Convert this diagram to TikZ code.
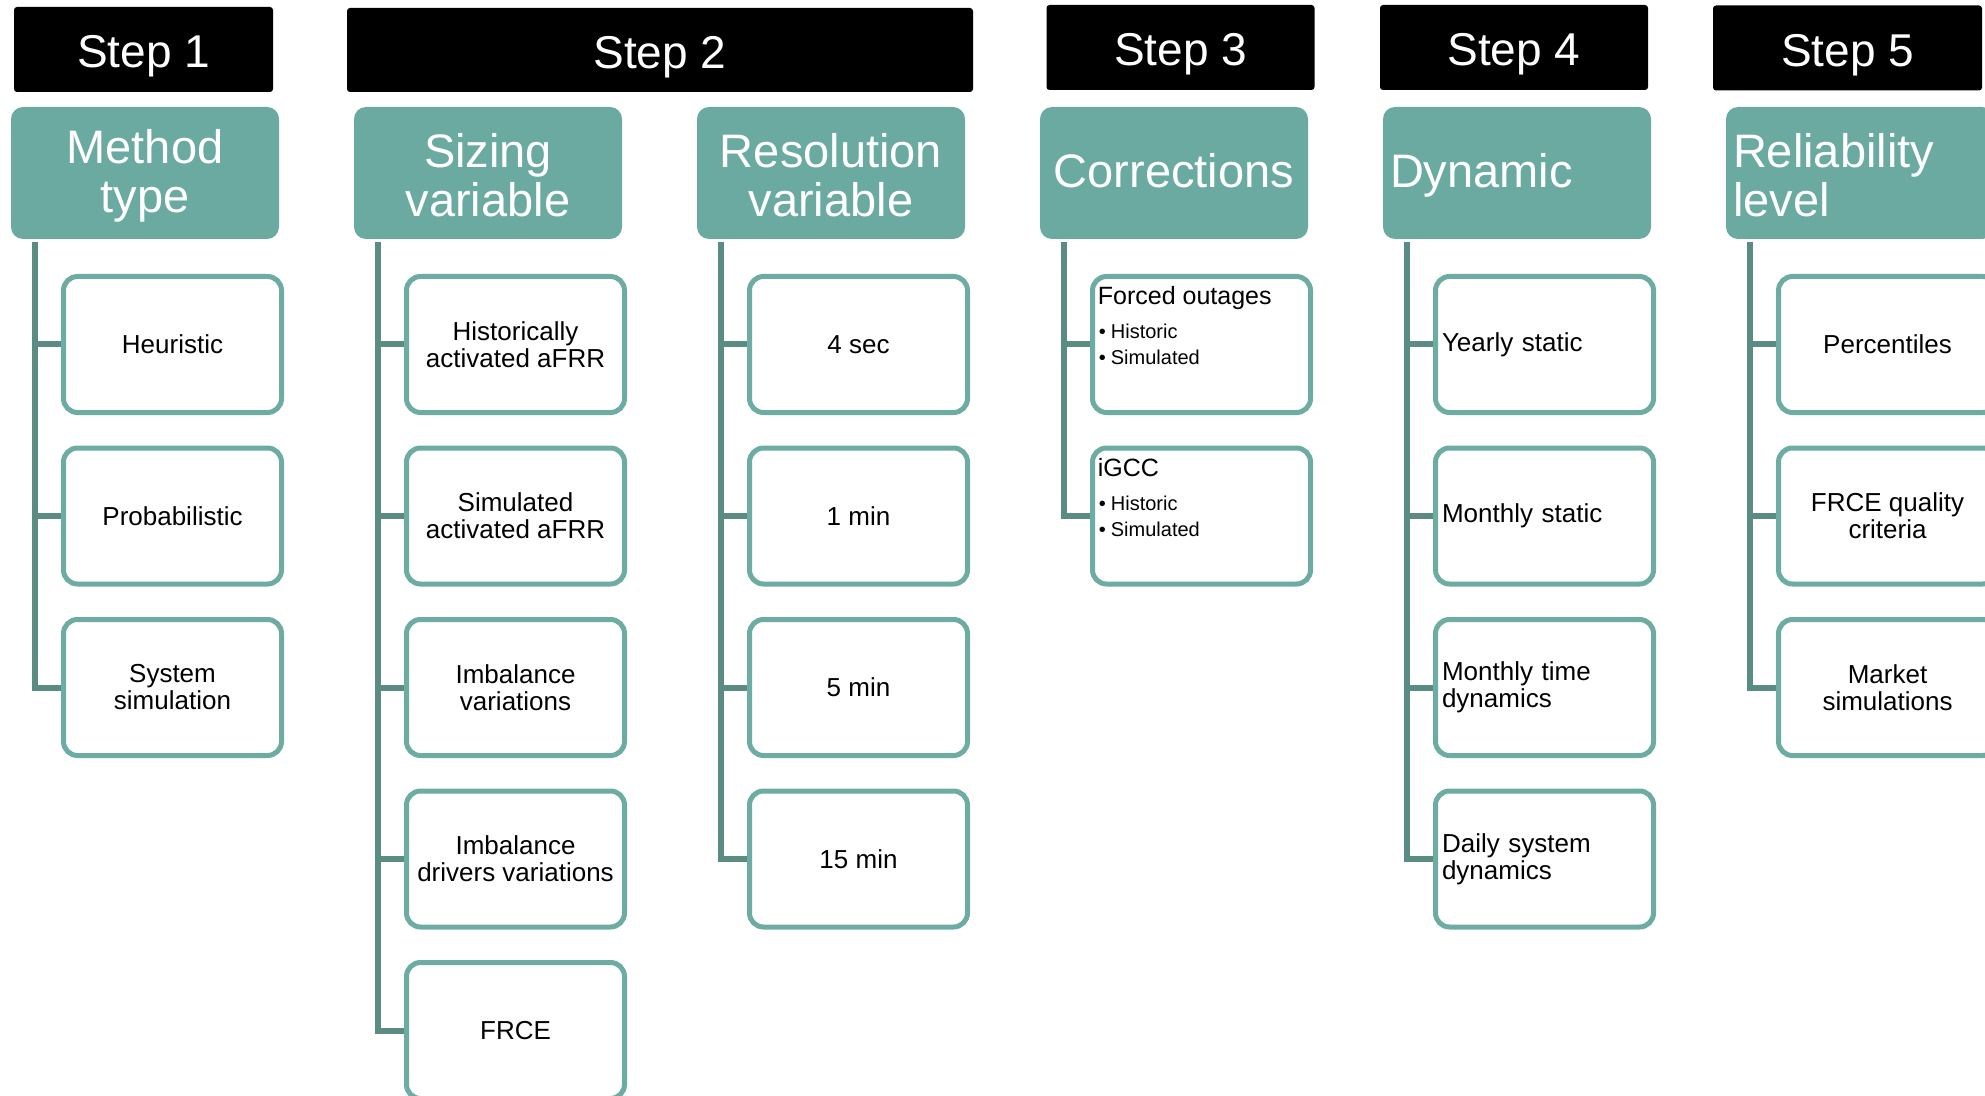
\documentclass[tikz,border=0pt]{standalone}
\usepackage{fontspec}
\setmainfont{Liberation Sans}
\usetikzlibrary{backgrounds}
\definecolor{hdrfill}{RGB}{106,170,160}
\definecolor{boxline}{RGB}{108,172,162}
\definecolor{connline}{RGB}{90,140,131}
\newcommand{\hstrut}{\rule{0pt}{19.5pt}}
\begin{document}
\begin{tikzpicture}[x=0.5pt,y=-0.5pt,
 stepbar/.style={fill=black, text=white, rounded corners=1.5pt, minimum height=42.5pt, inner sep=0pt, text height=18.5pt, text depth=0pt, font=\fontsize{23}{24}\selectfont},
 hdr/.style={fill=hdrfill, text=white, rounded corners=6pt, minimum width=134pt, minimum height=66pt, inner sep=0pt, align=center, font=\fontsize{23.5}{24.5}\selectfont},
 hdrone/.style={hdr, text height=17pt, text depth=2pt},
 hdrleft/.style={hdr, text width=127pt, align=left, inner xsep=3.5pt},
 child/.style={draw=boxline, line width=2.5pt, fill=white, rounded corners=7pt, minimum width=109pt, minimum height=68pt, inner sep=0pt, align=center, font=\fontsize{13}{13.5}\selectfont},
 childleft/.style={child, text width=102.5pt, align=left, inner xsep=3.25pt},
 conn/.style={draw=connline, line width=3pt},
 ctitle/.style={anchor=base west, inner sep=0pt, font=\fontsize{12.5}{13}\selectfont},
 cbullet/.style={anchor=base west, inner sep=0pt, font=\fontsize{10}{12}\selectfont},
]
\useasboundingbox (0,0) rectangle (1985,1096);
\clip (0,0) rectangle (1985,1096);

% step bars
\node[stepbar, minimum width=129.5pt] (s1) at (143.5,49.5) {Step 1};
\node[stepbar, minimum width=313pt, minimum height=42pt] (s2) at (660,50) {Step 2};
\node[stepbar, minimum width=134pt] (s3) at (1180.5,47.5) {Step 3};
\node[stepbar, minimum width=134pt] (s4) at (1514,47.5) {Step 4};
\node[stepbar, minimum width=134.5pt] (s5) at (1847.5,48) {Step 5};

% headers
\node[hdr] (h0) at (145,173) {\hstrut Method\\type};
\node[hdr] (h1) at (488,173) {\hstrut Sizing\\variable};
\node[hdr] (h2) at (831,173) {\hstrut Resolution\\variable};
\node[hdrone] (h3) at (1174,173) {Corrections};
\node[hdrleft, text height=17pt, text depth=2pt] (h4) at (1517,173) {Dynamic};
\node[hdrleft] (h5) at (1860,173) {\hstrut Reliability\\level};

% column 1
\node[child] (c0r1) at (172.5,344.5) {Heuristic};
\node[child] (c0r2) at (172.5,516) {Probabilistic};
\node[child] (c0r3) at (172.5,687.5) {System\\simulation};

% column 2a
\node[child] (c1r1) at (515.5,344.5) {Historically\\activated aFRR};
\node[child] (c1r2) at (515.5,516) {Simulated\\activated aFRR};
\node[child] (c1r3) at (515.5,687.5) {Imbalance\\variations};
\node[child] (c1r4) at (515.5,859) {Imbalance\\drivers variations};
\node[child] (c1r5) at (515.5,1030.5) {FRCE};

% column 2b
\node[child] (c2r1) at (858.5,344.5) {4 sec};
\node[child] (c2r2) at (858.5,516) {1 min};
\node[child] (c2r3) at (858.5,687.5) {5 min};
\node[child] (c2r4) at (858.5,859) {15 min};

% column 3
\node[child] (c3r1) at (1201.5,344.5) {};
\node[ctitle] (t31) at ([shift={(7.5,30.5)}]c3r1.north west) {Forced outages};
\node[cbullet] (b311) at ([shift={(8.5,64.5)}]c3r1.north west) {\makebox[6pt][l]{•}Historic};
\node[cbullet] (b312) at ([shift={(8.5,90.5)}]c3r1.north west) {\makebox[6pt][l]{•}Simulated};
\node[child] (c3r2) at (1201.5,516) {};
\node[ctitle] (t32) at ([shift={(7.5,30.5)}]c3r2.north west) {iGCC};
\node[cbullet] (b321) at ([shift={(8.5,64.5)}]c3r2.north west) {\makebox[6pt][l]{•}Historic};
\node[cbullet] (b322) at ([shift={(8.5,90.5)}]c3r2.north west) {\makebox[6pt][l]{•}Simulated};

% column 4
\node[childleft] (c4r1) at (1544.5,344.5) {Yearly static};
\node[childleft] (c4r2) at (1544.5,516) {Monthly static};
\node[childleft] (c4r3) at (1544.5,687.5) {Monthly time\\dynamics};
\node[childleft] (c4r4) at (1544.5,859) {Daily system\\dynamics};

% column 5
\node[child] (c5r1) at (1887.5,344.5) {Percentiles};
\node[child] (c5r2) at (1887.5,516) {FRCE quality\\criteria};
\node[child] (c5r3) at (1887.5,687.5) {Market\\simulations};

\begin{scope}[on background layer]
\foreach \h/\last in {0/3,1/5,2/4,3/2,4/4,5/3}{
  \foreach \r in {1,...,\last}{
    \draw[conn] ([shift={(24,3)}]h\h.south west) |- (c\h r\r.west);
  }
}
\end{scope}
\end{tikzpicture}
\end{document}
